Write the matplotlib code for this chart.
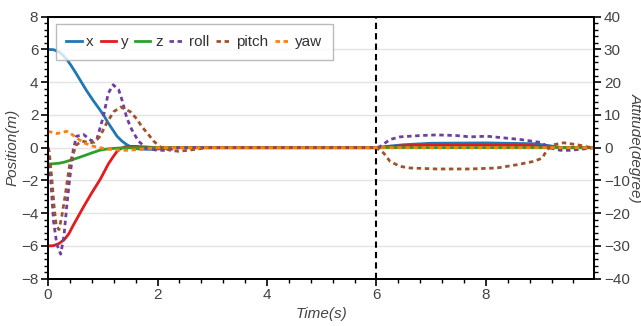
import matplotlib.pyplot as plt
from matplotlib.ticker import MultipleLocator

plt.rcParams['font.family'] = ['Liberation Sans', 'DejaVu Sans']

# --- position (m), left axis ---
x_t = [0, 0.1, 0.2, 0.27, 0.34, 0.42, 0.5, 0.6, 0.7, 0.82, 0.95, 1.03, 1.1, 1.18,
       1.26, 1.35, 1.44, 1.52, 1.6, 1.7, 1.8, 1.9, 2.0, 2.15, 2.3,
       6.0, 6.25, 6.5, 7.0, 8.0, 8.9, 9.2, 9.4, 9.98]
x_pos = [6, 5.98, 5.85, 5.65, 5.4, 5.02, 4.6, 4.05, 3.5, 2.9, 2.3, 1.9, 1.5, 1.1,
         0.7, 0.4, 0.18, 0.04, -0.05, -0.09, -0.1, -0.1, -0.08, -0.04, 0,
         0, 0.1, 0.18, 0.27, 0.29, 0.24, 0.1, 0, 0]

y_t = [0, 0.1, 0.2, 0.3, 0.38, 0.45, 0.55, 0.65, 0.8, 0.95, 1.03, 1.1, 1.18, 1.26,
       1.33, 1.4, 1.5, 1.6, 1.9, 2.2,
       6.0, 6.5, 7.0, 8.0, 8.8, 9.3, 9.98]
y_pos = [-6, -5.98, -5.85, -5.6, -5.25, -4.8, -4.2, -3.6, -2.75, -1.95, -1.45, -1.0,
         -0.6, -0.22, -0.05, 0.05, 0.08, 0.08, 0.02, 0,
         0, 0.12, 0.15, 0.15, 0.13, 0, 0]

z_t = [0, 0.1, 0.2, 0.3, 0.4, 0.52, 0.65, 0.8, 0.95, 1.1, 1.3, 1.6, 9.98]
z_pos = [-1, -0.98, -0.95, -0.88, -0.78, -0.65, -0.5, -0.32, -0.15, -0.07, -0.02, 0, 0]

# --- attitude (degree), right axis ---
roll_t = [0, 0.05, 0.1, 0.16, 0.23, 0.29, 0.34, 0.4, 0.46, 0.52, 0.65, 0.8, 0.89,
          1.01, 1.1, 1.19, 1.29, 1.35, 1.44, 1.53, 1.65, 1.8, 1.99, 2.15, 2.4,
          6.0, 6.07, 6.25, 6.43, 6.8, 7.1, 7.46, 7.71, 8.02, 8.32, 8.63, 9.0,
          9.18, 9.36, 9.54, 9.78, 9.98]
roll_deg = [0, -10, -22.5, -29.5, -32.5, -27, -18, -8.8, -0.6, 3.5, 4, 2, 2.5,
            9.5, 16.6, 19.2, 17.7, 14.6, 9, 5.5, 2, -0.1, -0.8, -0.8, 0,
            0, 0.4, 2.5, 3.3, 3.7, 3.9, 3.7, 3.3, 3.5, 3, 2.5, 1.6,
            -0.1, -0.8, -0.8, -0.4, 0]

pitch_t = [0, 0.02, 0.07, 0.11, 0.15, 0.2, 0.25, 0.31, 0.4, 0.52, 0.62, 0.77, 0.85,
           0.95, 1.07, 1.2, 1.33, 1.5, 1.62, 1.71, 1.82, 1.93, 2.05, 2.23, 2.38,
           2.56, 2.74, 2.9, 6.0, 6.13, 6.25, 6.43, 6.62, 7.1, 7.71, 8.2, 8.57,
           8.87, 9.03, 9.12, 9.24, 9.42, 9.67, 9.9, 9.98]
pitch_deg = [0, -1.1, -9.8, -18, -24, -25, -21, -14.9, -4.5, 0.9, 2, 1.5, 1.7,
             3.5, 7.5, 11, 12.4, 11, 8.8, 6.5, 4.3, 2, 0.2, -0.8, -1.1,
             -0.8, -0.4, 0, 0, -1.6, -4.2, -5.7, -6.2, -6.5, -6.5, -6.2, -5.2,
             -4.2, -3.2, -0.6, 0.9, 1.5, 0.9, 0.1, 0]

yaw_t = [0, 0.16, 0.34, 0.4, 0.52, 0.65, 0.83, 1.07, 1.32, 1.47, 1.68, 2.0, 9.98]
yaw_deg = [5, 4.3, 5, 4.5, 3, 1.5, 0.4, -0.4, -0.8, -0.8, -0.5, 0, 0]

fig = plt.figure(figsize=(6.41, 3.26), dpi=100)
ax = fig.add_axes([0.075, 0.145, 0.852, 0.804])
ax2 = ax.twinx()

h1, = ax.plot(x_t, x_pos, color='#1f77b4', lw=2, label='x')
h2, = ax.plot(y_t, y_pos, color='#e41a1c', lw=2, label='y')
h3, = ax.plot(z_t, z_pos, color='#2ca02c', lw=2, label='z')
dash = (0, (1.6, 1.3))
h4, = ax2.plot(roll_t, roll_deg, color='#6f3fa0', lw=2, ls=dash, label='roll')
h5, = ax2.plot(pitch_t, pitch_deg, color='#a0522d', lw=2, ls=dash, label='pitch')
h6, = ax2.plot(yaw_t, yaw_deg, color='#ff7f0e', lw=2, ls=dash, label='yaw')

ax.axvline(6, color='black', lw=1.5, ls=(0, (3, 2)))

ax.set_xlim(0, 9.98)
ax.set_ylim(-8, 8)
ax2.set_ylim(-40, 40)
ax.xaxis.set_major_locator(MultipleLocator(2))
ax.xaxis.set_minor_locator(MultipleLocator(0.4))
ax.yaxis.set_major_locator(MultipleLocator(2))
ax.yaxis.set_minor_locator(MultipleLocator(0.4))
ax2.yaxis.set_major_locator(MultipleLocator(10))
ax2.yaxis.set_minor_locator(MultipleLocator(2))

ax.grid(axis='y', color='#e3e3e3', lw=1)
ax.set_axisbelow(True)

for a in (ax, ax2):
    for s in a.spines.values():
        s.set_linewidth(1.3)
        s.set_color('black')
    a.tick_params(which='major', length=5, width=1.2, labelsize=11, labelcolor='#444444',
                  direction='out', pad=2)
    a.tick_params(which='minor', length=3, width=1, direction='out')

ax.set_xlabel('Time(s)', style='italic', fontsize=11, color='#444444', labelpad=3)
ax.set_ylabel('Position(m)', style='italic', fontsize=11, color='#444444', labelpad=1)
ax2.set_ylabel('Attitude(degree)', style='italic', fontsize=11, color='#444444',
               rotation=270, labelpad=9)

leg = ax2.legend(handles=[h1, h2, h3, h4, h5, h6], loc='upper left', ncol=6,
                 fontsize=11, handlelength=1.0, handletextpad=0.3, columnspacing=0.45,
                 borderpad=0.7, fancybox=False, framealpha=0.8, edgecolor='#aaaaaa')
for txt in leg.get_texts():
    txt.set_color('#333333')

fig.savefig('out.png', dpi=100)
